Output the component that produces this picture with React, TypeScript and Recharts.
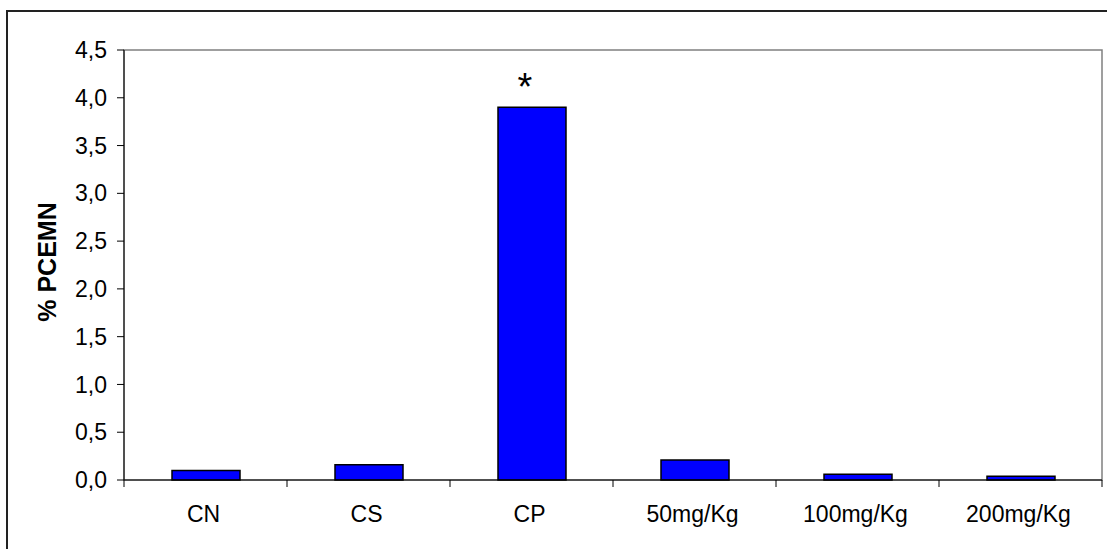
import React from 'react';
import { BarChart, Bar, XAxis, YAxis, ReferenceArea, LabelList } from 'recharts';

const categories = ['CN', 'CS', 'CP', '50mg/Kg', '100mg/Kg', '200mg/Kg'];
const pcemnValues = [0.1, 0.16, 3.9, 0.21, 0.06, 0.04];
const significance = ['', '', '*', '', '', ''];
const yTicks = [0, 0.5, 1, 1.5, 2, 2.5, 3, 3.5, 4, 4.5];

const data = categories.map((name, i) => ({ name, value: pcemnValues[i], mark: significance[i] }));

const FONT = '"Liberation Sans", Arial, sans-serif';
const n = categories.length;

const XTick = (props: any) => {
  const { x, y, payload, index, width } = props;
  const half = payload && payload.offset ? payload.offset : width / n / 2;
  return (
    <g>
      <line x1={x - half} y1={y} x2={x - half} y2={y + 7} stroke="#000" strokeWidth={1} />
      {index === n - 1 && (
        <line x1={x + half} y1={y} x2={x + half} y2={y + 7} stroke="#000" strokeWidth={1} />
      )}
      <text x={x - 2} y={y + 42} textAnchor="middle" fontFamily={FONT} fontSize={23} fill="#000">
        {payload.value}
      </text>
    </g>
  );
};

const YLabel = (props: any) => {
  const vb = props.viewBox || {};
  const cx = 47;
  const cy = (vb.y || 0) + (vb.height || 0) / 2 - 3;
  return (
    <text
      x={cx}
      y={cy}
      transform={`rotate(-90, ${cx}, ${cy})`}
      textAnchor="middle"
      dominantBaseline="central"
      fontFamily={FONT}
      fontWeight="bold"
      fontSize={25}
      fill="#000"
    >
      % PCEMN
    </text>
  );
};

const StarLabel = (props: any) => {
  const { x, y, width, value } = props;
  if (!value) return null;
  return (
    <text x={x + width / 2 - 7} y={y - 7} textAnchor="middle" fontFamily={FONT} fontSize={38} fill="#000">
      {value}
    </text>
  );
};

export default function App() {
  return (
    <div style={{ position: 'absolute', left: 0, top: 0, width: 1107, height: 549, overflow: 'hidden', background: '#fff' }}>
      <div
        style={{
          position: 'absolute',
          left: 6,
          top: 10,
          width: 1120,
          height: 560,
          border: '2px solid #222',
          boxSizing: 'border-box',
        }}
      />
      <div style={{ position: 'absolute', left: 0, top: 0 }}>
        <BarChart
          width={1107}
          height={549}
          data={data}
          margin={{ top: 50, right: 5, bottom: 0, left: 0 }}
          barSize={68}
        >
          <ReferenceArea y1={0} y2={4.5} fill="none" stroke="#808080" strokeWidth={1.5} ifOverflow="visible" />
          <XAxis
            dataKey="name"
            height={69}
            axisLine={{ stroke: '#000', strokeWidth: 1 }}
            tickLine={false}
            tickSize={0}
            tickMargin={0}
            interval={0}
            tick={<XTick />}
          />
          <YAxis
            width={124}
            domain={[0, 4.5]}
            ticks={yTicks}
            interval={0}
            axisLine={{ stroke: '#000', strokeWidth: 1 }}
            tickLine={{ stroke: '#000', strokeWidth: 1 }}
            tickSize={7}
            tickMargin={10}
            tickFormatter={(v: number) => v.toFixed(1).replace('.', ',')}
            tick={{ fontFamily: FONT, fontSize: 23, fill: '#000' }}
            label={<YLabel />}
          />
          <Bar dataKey="value" fill="#0000FF" stroke="#000" strokeWidth={1.5} isAnimationActive={false}>
            <LabelList dataKey="mark" content={<StarLabel />} />
          </Bar>
        </BarChart>
      </div>
    </div>
  );
}
